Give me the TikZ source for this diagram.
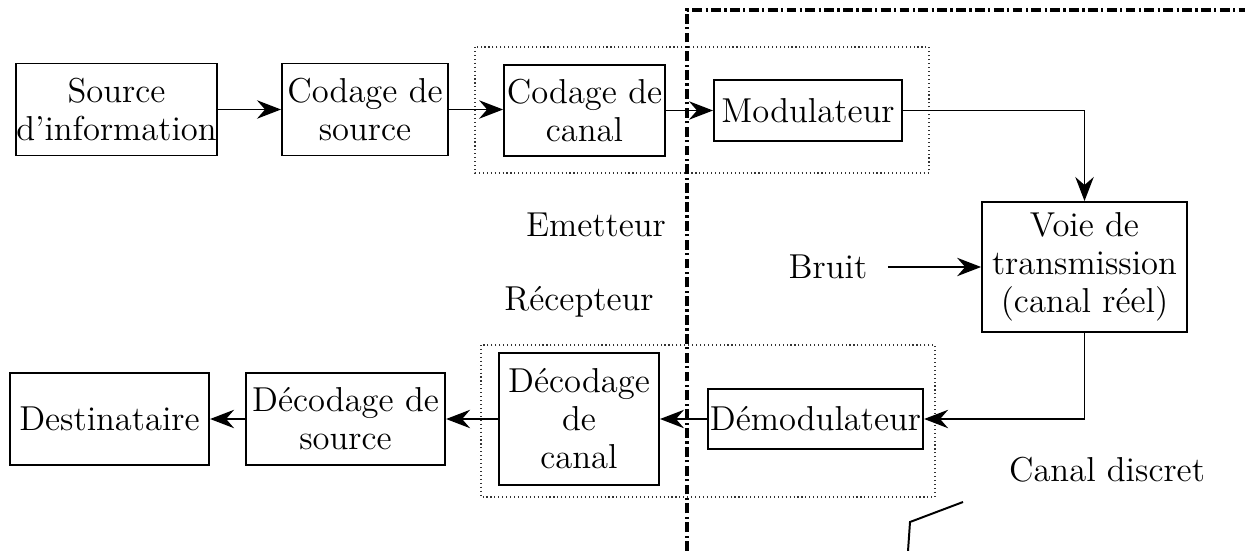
\documentclass[tikz,border=0pt]{standalone}
\usetikzlibrary{arrows.meta}
\begin{document}
\begin{tikzpicture}[x=0.125mm, y=-0.125mm,
		  font=\fontsize{12.3}{13.5}\selectfont,
		  bloc/.style={draw, line width=0.7pt, align=center, inner sep=0pt},
		  groupe/.style={draw, densely dotted, line width=0.4pt, black!80},
		  fleche/.style={line width=0.6pt, -{Stealth[length=3mm, width=2.3mm, inset=1mm]}},
		  frontiere/.style={line width=1.1pt, dash pattern=on 3.5pt off 1.2pt on 0.8pt off 1.2pt}]
		  \useasboundingbox (0,0) rectangle (1245,551);
		  % regroupements codage/modulation et demodulation/decodage
		  \draw[groupe] (475,47) rectangle (929,173);
		  \draw[groupe] (481,345) rectangle (935,497);
		  % chaine d'emission
		  \node[bloc, minimum width=25.1mm, minimum height=11.5mm] (src) at (116.5,109.5) {Source\\d'information};
		  \node[bloc, minimum width=20.75mm, minimum height=11.5mm] (csrc) at (365,109.5) {Codage de\\source};
		  \node[bloc, minimum width=20.1mm, minimum height=11.4mm] (ccan) at (584.5,110.5) {Codage de\\canal};
		  \node[bloc, minimum width=23.5mm, minimum height=7.6mm] (mod) at (808,110.5) {Modulateur};
		  % canal
		  \node[bloc, minimum width=25.6mm, minimum height=16.25mm] (voie) at (1084.5,267) {Voie de\\transmission\\(canal r\'eel)};
		  \node[inner sep=2.5mm] (bruit) at (828,267) {Bruit};
		  % chaine de reception
		  \node[bloc, minimum width=26.9mm, minimum height=7.5mm] (demod) at (815.5,419) {D\'emodulateur};
		  \node[bloc, minimum width=20mm, minimum height=16.5mm] (dcan) at (579,419) {D\'ecodage\\de\\canal};
		  \node[bloc, minimum width=24.9mm, minimum height=11.5mm] (dsrc) at (345.5,419) {D\'ecodage de\\source};
		  \node[bloc, minimum width=24.9mm, minimum height=11.5mm] (dest) at (109.5,419) {Destinataire};
		  \node (emet) at (596,225) {Emetteur};
		  \node (recep) at (579,302) {R\'ecepteur};
		  \node (cd) at (1107,470) {Canal discret};
		  \coordinate (cdstart) at (963,502);
		  \coordinate (cdknee) at (910,522);
		  \coordinate (cdend) at (908,551);
		  % liaisons
		  \draw[fleche] (src) -- (csrc);
		  \draw[fleche] (csrc.east) -- (csrc.east -| ccan.west);
		  \draw[fleche] (ccan) -- (mod);
		  \draw[fleche] (mod.east) -| (voie.north);
		  \draw[fleche] (bruit) -- (voie);
		  \draw[fleche] (voie.south) |- (demod.east);
		  \draw[fleche] (demod) -- (dcan);
		  \draw[fleche] (dcan) -- (dsrc);
		  \draw[fleche] (dsrc) -- (dest);
		  \draw[line width=0.7pt] (cdstart) -- (cdknee) -- (cdend);
		  % limite emetteur / recepteur et canal discret
		  \draw[frontiere] (687,551) -- (687,10) -- (1245,10);
	\end{tikzpicture}
\end{document}
